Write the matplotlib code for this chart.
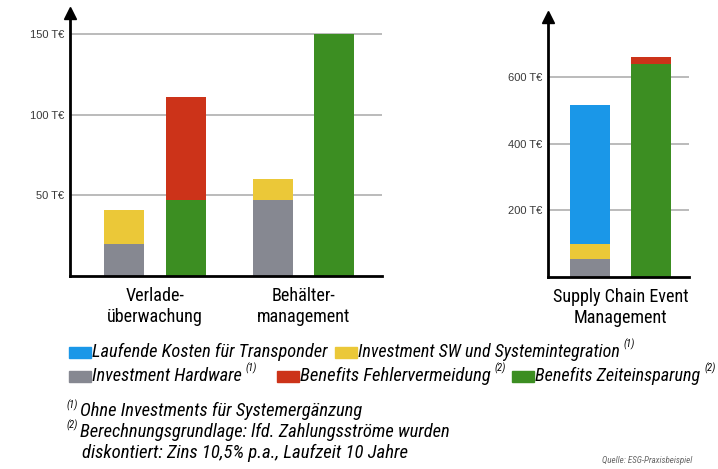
import os
import matplotlib.pyplot as plt
from matplotlib import font_manager as fm
from matplotlib.patches import Rectangle

# data (T€)
groups_left = ['Verlade-\nüberwachung', 'Behälter-\nmanagement']
hardware_left = [20, 47]
sw_left = [21, 13]
zeit_left = [47, 150]
fehler_left = [64, 0]

groups_right = ['Supply Chain Event\nManagement']
hardware_right = [55]
sw_right = [45]
transponder_right = [415]
zeit_right = [640]
fehler_right = [20]

ticks_left = [50, 100, 150]
ticks_right = [200, 400, 600]

c_blue = '#1a97e8'
c_yellow = '#ebc838'
c_gray = '#868891'
c_red = '#cc3319'
c_green = '#3c8e22'

W, H = 718, 469


def fx(x):
    return x / W


def fy(y):
    return 1 - y / H


def narrow_font(italic):
    # look for a condensed / narrow face, else fall back to Roboto
    order = ['liberationsansnarrow', 'robotocondensed', 'opensanscondensed',
             'notosanscondensed', 'dejavusanscondensed']
    found = {}
    for f in fm.fontManager.ttflist:
        fn = os.path.basename(f.fname).lower().replace('-', '').replace('_', '')
        if 'bold' in fn or 'light' in fn or 'thin' in fn or 'medium' in fn \
                or 'semi' in fn or 'black' in fn or 'extra' in fn:
            continue
        is_it = 'italic' in fn or 'oblique' in fn
        if is_it != italic:
            continue
        for key in order:
            if fn.startswith(key):
                found.setdefault(key, f.fname)
    for key in order:
        if key in found:
            return fm.FontProperties(fname=found[key])
    return fm.FontProperties(family=['Roboto', 'DejaVu Sans'],
                             style='italic' if italic else 'normal')


f_it = narrow_font(True)
f_up = narrow_font(False)

fig = plt.figure(figsize=(7.18, 4.69), dpi=100)
ax1 = fig.add_axes([fx(70), fy(276), fx(382) - fx(70), fy(13) - fy(276)])
ax2 = fig.add_axes([fx(548), fy(277), fx(689) - fx(548), fy(17) - fy(277)])
renderer = fig.canvas.get_renderer()


def fit(t, width_px, max_size=13.5):
    # shrink/grow a text so that it spans the width seen in the picture
    w = t.get_window_extent(renderer).width
    size = t.get_fontsize() * width_px / w
    t.set_fontsize(min(size, max_size))
    return t


off = 0.207
bw = 0.27

# left panel
xl = list(range(len(groups_left)))
cost_x = [x - off for x in xl]
ben_x = [x + off for x in xl]
ax1.bar(cost_x, hardware_left, bw, color=c_gray, zorder=3)
ax1.bar(cost_x, sw_left, bw, bottom=hardware_left, color=c_yellow, zorder=3)
ax1.bar(ben_x, zeit_left, bw, color=c_green, zorder=3)
ax1.bar(ben_x, fehler_left, bw, bottom=zeit_left, color=c_red, zorder=3)
ax1.set_xlim(-0.572, 1.529)
ax1.set_ylim(0, 163)
ax1.set_xticks(xl)
ax1.set_xticklabels(groups_left)
ax1.set_yticks(ticks_left)
ax1.set_yticklabels([f'{t} T€' for t in ticks_left])

# right panel
xr = list(range(len(groups_right)))
cost_x = [x - off for x in xr]
ben_x = [x + off for x in xr]
ax2.bar(cost_x, hardware_right, bw, color=c_gray, zorder=3)
ax2.bar(cost_x, sw_right, bw, bottom=hardware_right, color=c_yellow, zorder=3)
bot = [a + b for a, b in zip(hardware_right, sw_right)]
ax2.bar(cost_x, transponder_right, bw, bottom=bot, color=c_blue, zorder=3)
ax2.bar(ben_x, zeit_right, bw, color=c_green, zorder=3)
ax2.bar(ben_x, fehler_right, bw, bottom=zeit_right, color=c_red, zorder=3)
ax2.set_xlim(-0.49, 0.46)
ax2.set_ylim(0, 780)
ax2.set_xticks(xr)
ax2.set_xticklabels(groups_right)
ax2.set_yticks(ticks_right)
ax2.set_yticklabels([f'{t} T€' for t in ticks_right])

# size of category labels from the widest one ("Supply Chain Event" ~136 px)
probe = fig.text(0, 0, 'Supply Chain Event', fontproperties=f_up, fontsize=13)
xsize = min(13 * 136 / probe.get_window_extent(renderer).width, 14)
probe.remove()

for ax in (ax1, ax2):
    for s in ('top', 'right'):
        ax.spines[s].set_visible(False)
    ax.spines['left'].set_linewidth(2)
    ax.spines['bottom'].set_linewidth(2)
    ax.spines['left'].set_zorder(4)
    ax.spines['bottom'].set_zorder(4)
    ax.yaxis.grid(True, color='#a8a8a8', lw=1.1, zorder=1)
    ax.tick_params(axis='y', length=0, pad=4, labelsize=8, labelcolor='#3a3a3a')
    ax.tick_params(axis='x', length=0, pad=8)
    for lab in ax.get_yticklabels():
        lab.set_family(['Liberation Sans', 'DejaVu Sans'])
    for lab in ax.get_xticklabels():
        lab.set_fontproperties(f_up)
        lab.set_fontsize(xsize)
        lab.set_linespacing(1.2)
    ax.plot([0], [1.0], marker='^', ms=8, color='black',
            transform=ax.transAxes, clip_on=False, zorder=5)

# legend
legend_labels = ['Laufende Kosten für Transponder', 'Investment SW und Systemintegration',
                 'Investment Hardware', 'Benefits Fehlervermeidung', 'Benefits Zeiteinsparung']
legend_colors = [c_blue, c_yellow, c_gray, c_red, c_green]
legend_notes = ['', '(1)', '(1)', '(2)', '(2)']
legend_pos = [(69, 352), (335, 352), (69, 376), (277, 376), (512, 376)]
legend_width = [236, 262, 150, 190, 165]

for lab, col, note, (x, y), wpx in zip(legend_labels, legend_colors, legend_notes,
                                        legend_pos, legend_width):
    fig.add_artist(Rectangle((fx(x), fy(y + 6)), 22 / W, 11 / H, color=col,
                             transform=fig.transFigure))
    t = fig.text(fx(x + 23), fy(y), lab, fontproperties=f_it, fontsize=13,
                 va='center', ha='left')
    fit(t, wpx)
    if note:
        bb = t.get_window_extent(renderer)
        fig.text(bb.x1 / W + 4 / W, fy(y - 8), note, fontproperties=f_it,
                 fontsize=7.5, va='center', ha='left')

# footnotes
fig.text(fx(66), fy(405), '(1)', fontproperties=f_it, fontsize=7.5, va='center')
fit(fig.text(fx(80), fy(411), 'Ohne Investments für Systemergänzung',
             fontproperties=f_it, fontsize=13, va='center'), 282)
fig.text(fx(66), fy(425), '(2)', fontproperties=f_it, fontsize=7.5, va='center')
fit(fig.text(fx(80), fy(432), 'Berechnungsgrundlage: lfd. Zahlungsströme wurden',
             fontproperties=f_it, fontsize=13, va='center'), 369)
fit(fig.text(fx(82), fy(453), 'diskontiert: Zins 10,5% p.a., Laufzeit 10 Jahre',
             fontproperties=f_it, fontsize=13, va='center'), 335)
fit(fig.text(fx(692), fy(460), 'Quelle: ESG-Praxisbeispiel', fontproperties=f_it,
             fontsize=8, color='#666666', va='center', ha='right'), 90, 9)

fig.savefig('out.png', dpi=100)
